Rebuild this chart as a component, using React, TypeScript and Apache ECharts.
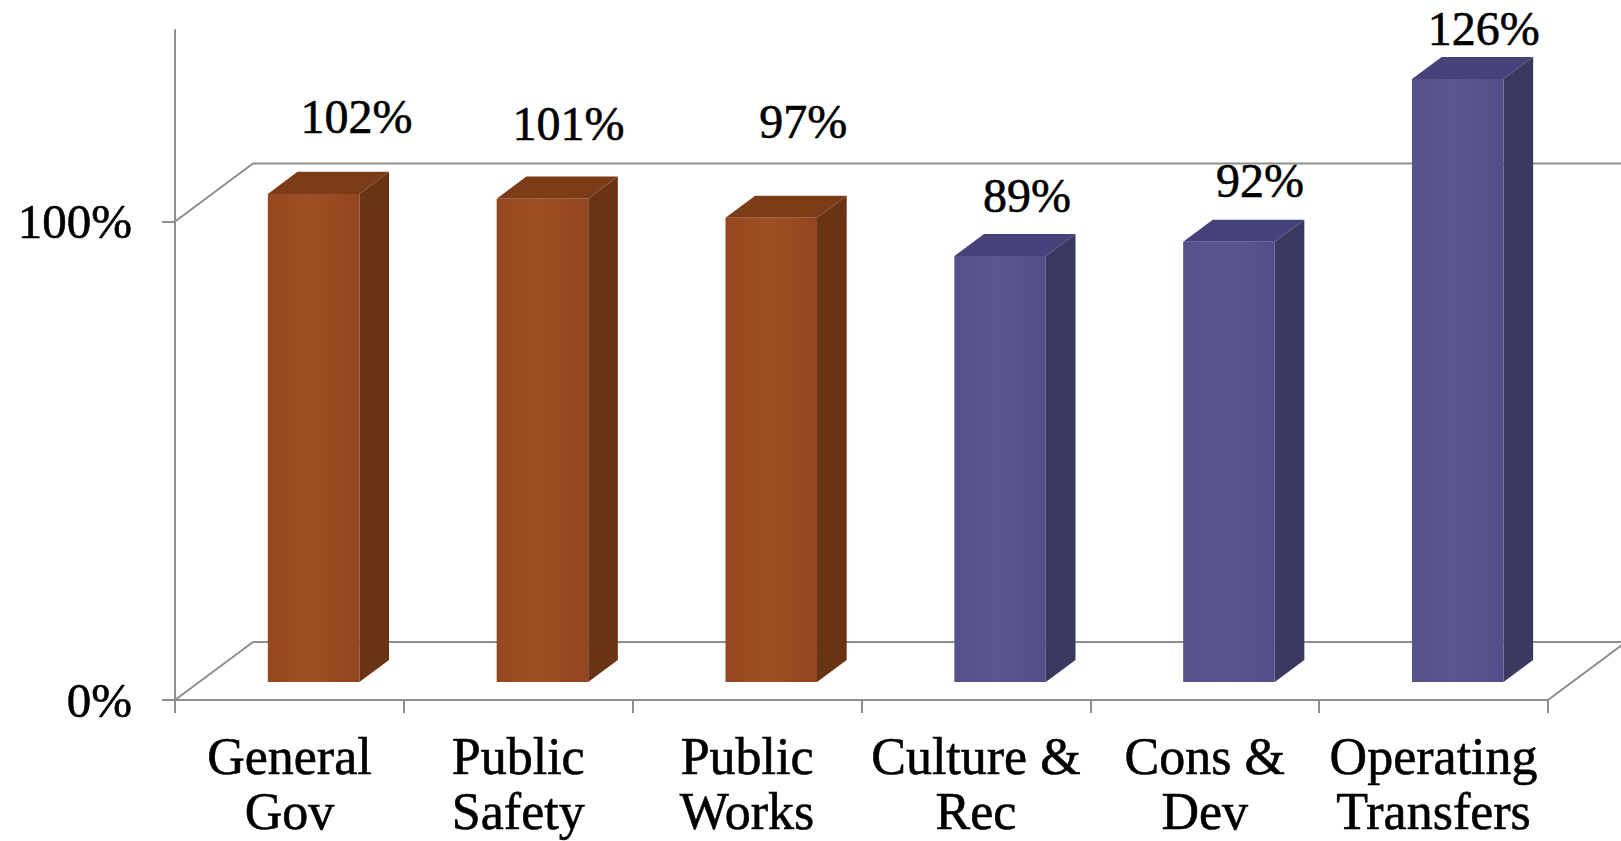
import React, { useEffect, useRef } from "react";
import * as echarts from "echarts";

// Share of budget spent, by department
const categories = [
  "General\nGov",
  "Public\nSafety",
  "Public\nWorks",
  "Culture &\nRec",
  "Cons &\nDev",
  "Operating\nTransfers",
];
const percentSpent = [102, 101, 97, 89, 92, 126];
// colour family for each department's column
const colorGroup = ["brown", "brown", "brown", "blue", "blue", "blue"];
const yTickValues = [0, 100];

// hand-placed offsets of each value label (pixels)
const labelShift: [number, number][] = [
  [15, -15],
  [-2, -13],
  [4, -34],
  [-1, 1],
  [3, 1],
  [-2, 11],
];

// oblique depth of the 3D frame (pixels for full depth)
const DEPTH_DX = 78;
const DEPTH_DY = -58;
const BAR_FRONT = 0.31;
const BAR_BACK = 0.69;
const BAR_RATIO = 0.4;

const FONT = "'Liberation Serif', 'Times New Roman', serif";
const FRAME_COLOR = "#8e8e8e";
// a faint outline gives the serif text a slightly heavier stroke
const TEXT_WEIGHT = { textBorderColor: "#000", textBorderWidth: 0.6 };

const palette: Record<string, { front: any; side: string; top: string }> = {
  brown: {
    front: new echarts.graphic.LinearGradient(0, 0, 1, 0, [
      { offset: 0, color: "#95481f" },
      { offset: 0.45, color: "#9e4f24" },
      { offset: 1, color: "#92461f" },
    ]),
    side: "#683414",
    top: "#7c3c18",
  },
  blue: {
    front: new echarts.graphic.LinearGradient(0, 0, 1, 0, [
      { offset: 0, color: "#55518a" },
      { offset: 0.45, color: "#5a5690" },
      { offset: 1, color: "#524e88" },
    ]),
    side: "#3a3a61",
    top: "#45437a",
  },
};

export default function App() {
  const ref = useRef<HTMLDivElement>(null);

  useEffect(() => {
    if (!ref.current) return;
    const chart = echarts.init(ref.current, null, { renderer: "svg" });

    const frameRender = (params: any, api: any) => {
      const cs = params.coordSys;
      const xl = cs.x;
      const xr = cs.x + cs.width;
      const y0 = api.coord([0, 0])[1];
      const y100 = api.coord([0, 100])[1];
      const style = { stroke: FRAME_COLOR, lineWidth: 2 };
      const seg = (x1: number, y1: number, x2: number, y2: number) => ({
        type: "line",
        shape: { x1, y1, x2, y2 },
        style,
      });
      return {
        type: "group",
        children: [
          seg(xl + DEPTH_DX, y100 + DEPTH_DY, xr + DEPTH_DX, y100 + DEPTH_DY),
          seg(xl + DEPTH_DX, y0 + DEPTH_DY, xr + DEPTH_DX, y0 + DEPTH_DY),
          seg(xl, y100, xl + DEPTH_DX, y100 + DEPTH_DY),
          seg(xl, y0, xl + DEPTH_DX, y0 + DEPTH_DY),
          seg(xr, y0, xr + DEPTH_DX, y0 + DEPTH_DY),
        ],
      };
    };

    const barRender = (params: any, api: any) => {
      const i = api.value(0);
      const v = api.value(1);
      const base = api.coord([i, 0]);
      const top = api.coord([i, v]);
      const band = api.size([1, 0])[0];
      const w = band * BAR_RATIO;
      const fx = DEPTH_DX * BAR_FRONT;
      const fy = DEPTH_DY * BAR_FRONT;
      const ddx = DEPTH_DX * (BAR_BACK - BAR_FRONT);
      const ddy = DEPTH_DY * (BAR_BACK - BAR_FRONT);
      const cx = base[0] + fx;
      const left = cx - w / 2;
      const right = cx + w / 2;
      const yb = base[1] + fy;
      const yt = top[1] + fy;
      const c = palette[colorGroup[i]];
      const sh = labelShift[i];
      return {
        type: "group",
        children: [
          {
            type: "polygon",
            shape: {
              points: [
                [right, yt],
                [right + ddx, yt + ddy],
                [right + ddx, yb + ddy],
                [right, yb],
              ],
            },
            style: { fill: c.side },
          },
          {
            type: "polygon",
            shape: {
              points: [
                [left, yt],
                [left + ddx, yt + ddy],
                [right + ddx, yt + ddy],
                [right, yt],
              ],
            },
            style: { fill: c.top },
          },
          {
            type: "rect",
            shape: { x: left, y: yt, width: w, height: yb - yt },
            style: { fill: c.front },
          },
          {
            type: "text",
            x: cx + 28 + sh[0],
            y: yt - 62 + sh[1],
            style: {
              text: `${v}%`,
              fill: "#000",
              fontSize: 48,
              fontFamily: FONT,
              align: "center",
              verticalAlign: "middle",
              stroke: "#000",
              lineWidth: 0.6,
            },
          },
        ],
      };
    };

    chart.setOption({
      animation: false,
      backgroundColor: "#ffffff",
      grid: { left: 175, right: 73, top: 30, bottom: 141 },
      xAxis: {
        type: "category",
        data: categories,
        boundaryGap: true,
        axisLine: { show: true, lineStyle: { color: FRAME_COLOR, width: 2 } },
        axisTick: {
          show: true,
          interval: 0,
          length: 13,
          lineStyle: { color: FRAME_COLOR, width: 2 },
        },
        axisLabel: {
          interval: 0,
          color: "#000",
          fontFamily: FONT,
          fontSize: 52,
          lineHeight: 55,
          margin: 29,
          ...TEXT_WEIGHT,
        },
        splitLine: { show: false },
      },
      yAxis: {
        type: "value",
        min: 0,
        max: 140,
        axisLine: { show: true, lineStyle: { color: FRAME_COLOR, width: 2 } },
        axisTick: {
          show: true,
          customValues: yTickValues,
          length: 13,
          lineStyle: { color: FRAME_COLOR, width: 2 },
        },
        axisLabel: {
          customValues: yTickValues,
          formatter: (val: number) => (yTickValues.includes(val) ? `${val}%` : ""),
          color: "#000",
          fontFamily: FONT,
          fontSize: 49,
          margin: 43,
          ...TEXT_WEIGHT,
        },
        splitLine: { show: false },
      },
      series: [
        {
          type: "custom",
          z: 1,
          silent: true,
          renderItem: frameRender,
          data: [[0, 0]],
        },
        {
          type: "custom",
          z: 2,
          renderItem: barRender,
          data: percentSpent.map((v, i) => [i, v]),
        },
      ],
    });

    return () => chart.dispose();
  }, []);

  return (
    <div
      ref={ref}
      style={{ position: "absolute", left: 0, top: 0, width: 1621, height: 841 }}
    />
  );
}
